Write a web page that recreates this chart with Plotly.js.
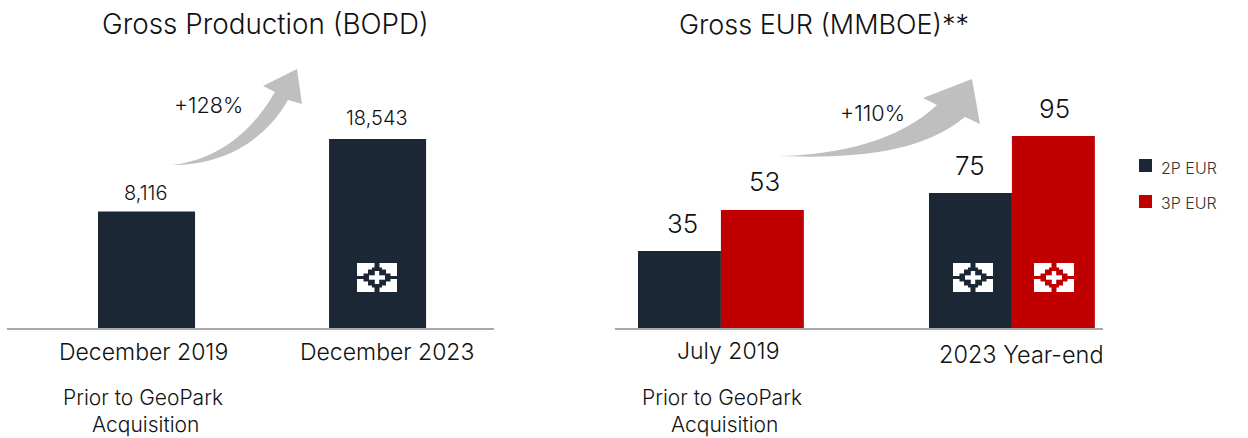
<!DOCTYPE html>
<html><head><meta charset="utf-8">
<script src="https://cdn.plot.ly/plotly-3.0.1.min.js"></script>
<style>html,body{margin:0;padding:0;background:#fff}#c{width:1248px;height:438px}</style>
</head><body><div id="c"></div>
<script>
// Printed labels
const prodLabels = ['8,116', '18,543'];
const eur2PLabels = ['35', '75'];
const eur3PLabels = ['53', '95'];
// The source bars are not drawn to scale: levels are read off the picture
const prodLevels = [11440, 18543];
const eur2PLevels = [38.1, 66.8];
const eur3PLevels = [58.4, 95];
const prodCategories = ['December 2019', 'December 2023'];
const eurCategories = ['July 2019', '2023 Year-end'];
const seriesNames = ['2P EUR', '3P EUR'];

const W = 1248, H = 438;
const px = x => x / W, py = y => 1 - y / H;
const DARK = '#1b2735', RED = '#c00000', INK = '#111111', FONT = 'Inter, "Noto Sans", sans-serif';
const BAR2 = 0.285;

const traces = [
  {type:'bar', x:[0,1], y:prodLevels, name:'Gross Production', xaxis:'x', yaxis:'y',
   width:0.42, marker:{color:DARK}, showlegend:false},
  {type:'bar', x:[0,1], y:eur2PLevels, name:seriesNames[0], xaxis:'x2', yaxis:'y2',
   width:BAR2, offset:-BAR2, marker:{color:DARK}, showlegend:false},
  {type:'bar', x:[0,1], y:eur3PLevels, name:seriesNames[1], xaxis:'x2', yaxis:'y2',
   width:BAR2, offset:0, marker:{color:RED}, showlegend:false}
];

function note(text, x, y, size, anchor, color) {
  return {text, xref:'paper', yref:'paper', x:px(x), y:py(y), xanchor:anchor||'center', yanchor:'middle',
          showarrow:false, font:{size, color:color||INK, family:FONT, weight:300}};
}
function valueNote(text, xa, ya, x, y, size, dx, shift) {
  return {text, xref:xa, yref:ya, x, y, xanchor:'center', yanchor:'middle', xshift:dx, yshift:shift,
          showarrow:false, font:{size, color:INK, family:FONT, weight:300}};
}
const annotations = [
  note('Gross Production (BOPD)', 265, 24, 27.8),
  note('Gross EUR (MMBOE)**', 824, 24, 27),
  note('+128%', 208, 105, 21.6),
  note('+110%', 872, 113, 21.7),
  note(prodCategories[0], 143, 352, 23),
  note(prodCategories[1], 387, 352, 23),
  note(eurCategories[0], 728, 351, 23),
  note(eurCategories[1], 1021, 354, 23.5),
  note('Prior to GeoPark', 143, 397, 21),
  note('Acquisition', 145, 424, 21),
  note('Prior to GeoPark', 722, 397, 21),
  note('Acquisition', 724, 424, 21),
  note(seriesNames[0], 1159, 168, 16, 'left', '#333333'),
  note(seriesNames[1], 1159, 203, 16, 'left', '#333333'),
  valueNote(prodLabels[0], 'x', 'y', 0, prodLevels[0], 20, -1, 18),
  valueNote(prodLabels[1], 'x', 'y', 1, prodLevels[1], 20, -1, 21),
  valueNote(eur2PLabels[0], 'x2', 'y2', -BAR2/2, eur2PLevels[0], 26, 3, 28),
  valueNote(eur2PLabels[1], 'x2', 'y2', 1-BAR2/2, eur2PLevels[1], 26, 0, 28),
  valueNote(eur3PLabels[0], 'x2', 'y2', BAR2/2, eur3PLevels[0], 26, 2, 28),
  valueNote(eur3PLabels[1], 'x2', 'y2', 1+BAR2/2, eur3PLevels[1], 26, 1, 28)
];

function pathOf(s) {
  return s.replace(/(-?[\d.]+),(-?[\d.]+)/g, (m, a, b) => px(+a) + ',' + py(+b));
}
function paperPath(d, color) {
  return {type:'path', xref:'paper', yref:'paper', path:pathOf(d), fillcolor:color, line:{width:0}, layer:'above'};
}
function paperRect(x0, y0, x1, y1, color) {
  return {type:'rect', xref:'paper', yref:'paper', x0:px(x0), x1:px(x1), y0:py(y0), y1:py(y1),
          fillcolor:color, line:{width:0}, layer:'above'};
}
function logo(cx, cy, bg) {
  const r = (a, b, c, d, col) => paperRect(cx + a, cy + b, cx + c, cy + d, col);
  return [
    r(-20,-14.5,20,14.5,'#ffffff'),
    r(-2.5,-14.5,2.5,-8,bg), r(-2.5,8,2.5,14.5,bg),
    r(-20,-1.5,-12,1.5,bg), r(12,-1.5,20,1.5,bg),
    r(-13.5,-4,13.5,4,bg), r(-9,-8,9,8,bg), r(-5,-10,5,10,bg),
    r(-8,-2.2,8,2.2,'#ffffff'), r(-2.2,-6.5,2.2,6.5,'#ffffff')
  ];
}
const shapes = [
  paperPath('M172,165 C215,160 250,135 275,92 L263,86 L297,69 L302,104 L288,100 C265,140 225,165 172,165 Z', '#bfbfbf'),
  paperPath('M778,156 C840,155 900,140 937,105 L923,98 L972,79 L980,124 L965,117 C930,145 880,160 778,156 Z', '#bfbfbf'),
  paperRect(1139, 159, 1152, 172, DARK),
  paperRect(1139, 195, 1152, 208, RED),
  ...logo(377, 277.5, DARK), ...logo(973, 277.5, DARK), ...logo(1054, 277.5, RED)
];

const baseX = {showgrid:false, zeroline:false, showticklabels:false, ticks:'', showline:true,
               linecolor:'#a9a9a9', linewidth:2, tickmode:'array', fixedrange:true};
const baseY = {showgrid:false, zeroline:false, showticklabels:false, ticks:'', showline:false, fixedrange:true};

const layout = {
  width:W, height:H, margin:{l:0, r:0, t:0, b:0}, paper_bgcolor:'#fff', plot_bgcolor:'#fff',
  barmode:'overlay', font:{family:FONT}, showlegend:false,
  xaxis:{...baseX, domain:[px(7), px(494)], range:[-0.604, 1.504], anchor:'y', tickvals:[0,1], ticktext:prodCategories},
  yaxis:{...baseY, domain:[py(328), 1], range:[0, 32180], anchor:'x'},
  xaxis2:{...baseX, domain:[px(615), px(1103)], range:[-0.364, 1.313], anchor:'y2', tickvals:[0,1], ticktext:eurCategories},
  yaxis2:{...baseY, domain:[py(328), 1], range:[0, 162.3], anchor:'x2'},
  annotations, shapes
};
Plotly.newPlot('c', traces, layout, {displayModeBar:false, staticPlot:true});
</script></body></html>
